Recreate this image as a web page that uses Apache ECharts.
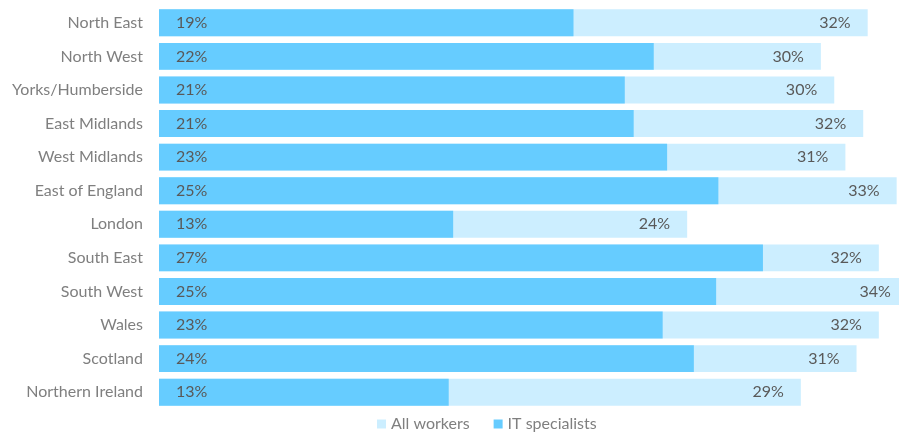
<!DOCTYPE html>
<html>
<head>
<meta charset="utf-8">
<script src="https://cdn.jsdelivr.net/npm/echarts@6/dist/echarts.min.js"></script>
<style>
  html, body { margin: 0; padding: 0; background: #fff; }
  #chart { width: 899px; height: 434px; }
</style>
</head>
<body>
<div id="chart"></div>
<script>
// regions, top to bottom
const regions = [
  "North East", "North West", "Yorks/Humberside", "East Midlands",
  "West Midlands", "East of England", "London", "South East",
  "South West", "Wales", "Scotland", "Northern Ireland"
];
// share (%)
const allWorkers = [31.8, 29.7, 30.3, 31.6, 30.8, 33.1, 23.7, 32.3, 33.6, 32.3, 31.3, 28.8];
const itSpecialists = [18.6, 22.2, 20.9, 21.3, 22.8, 25.1, 13.2, 27.1, 25.0, 22.6, 24.0, 13.0];

const FONT = "Lato";
const pct = (p) => Math.round(p.value) + "%";

const chart = echarts.init(document.getElementById("chart"), null, { renderer: "canvas" });

chart.setOption({
  animation: false,
  color: ["#CCEEFF", "#66CCFF"],
  textStyle: { fontFamily: FONT },
  // grid runs past the right edge so the longest bar gets cut like the original
  grid: { left: 159, top: 6, width: 780, height: 403, containLabel: false, outerBoundsMode: "none" },
  legend: {
    top: 411,
    left: 372,
    itemWidth: 9,
    itemHeight: 9,
    itemGap: 24,
    icon: "rect",
    textStyle: { color: "#7f7f7f", fontSize: 16, fontFamily: FONT },
    data: ["All workers", "IT specialists"]
  },
  xAxis: {
    type: "value",
    min: 0,
    max: 35,
    show: false
  },
  yAxis: {
    type: "category",
    data: regions,
    inverse: true,
    axisLine: { show: false },
    axisTick: { show: false },
    axisLabel: { color: "#7f7f7f", fontSize: 16, margin: 16, fontFamily: FONT }
  },
  series: [
    {
      name: "All workers",
      type: "bar",
      data: allWorkers,
      barCategoryGap: "20%",
      barGap: "-100%",
      label: {
        show: true,
        position: "insideRight",
        distance: 17,
        formatter: pct,
        color: "#595959",
        fontSize: 16,
        fontFamily: FONT
      }
    },
    {
      name: "IT specialists",
      type: "bar",
      data: itSpecialists,
      barCategoryGap: "20%",
      barGap: "-100%",
      label: {
        show: true,
        position: "insideLeft",
        distance: 17,
        formatter: pct,
        color: "#595959",
        fontSize: 16,
        fontFamily: FONT
      }
    }
  ]
});
</script>
</body>
</html>
